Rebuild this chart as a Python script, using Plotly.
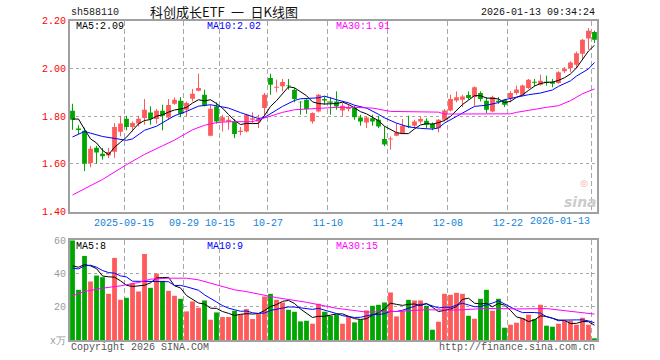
import plotly.graph_objects as go

# ---------------- data ----------------
sep = [2, 3, 4, 5, 8, 9, 10, 11, 12, 15, 16, 17, 18, 19, 22, 23, 24, 25, 26, 29, 30]
oct_ = [9, 10, 13, 14, 15, 16, 17, 20, 21, 22, 23, 24, 27, 28, 29, 30, 31]
nov = [3, 4, 5, 6, 7, 10, 11, 12, 13, 14, 17, 18, 19, 20, 21, 24, 25, 26, 27, 28]
dec = [1, 2, 3, 4, 5, 8, 9, 10, 11, 12, 15, 16, 17, 18, 19, 22, 23, 24, 25, 26, 29, 30, 31]
jan = [5, 6, 7, 8, 9, 12, 13]
dates = (["2025-09-%02d" % d for d in sep] + ["2025-10-%02d" % d for d in oct_]
         + ["2025-11-%02d" % d for d in nov] + ["2025-12-%02d" % d for d in dec]
         + ["2026-01-%02d" % d for d in jan])

opens = [1.823, 1.748, 1.739, 1.604, 1.668, 1.643, 1.635, 1.651, 1.735, 1.789,
         1.755, 1.769, 1.792, 1.816, 1.788, 1.823, 1.795, 1.852, 1.865, 1.827,
         1.873, 1.907, 1.890, 1.718, 1.841, 1.778, 1.778, 1.778, 1.734, 1.736,
         1.785, 1.778, 1.834, 1.960, 1.919, 1.925, 1.929, 1.911, 1.861, 1.869,
         1.778, 1.820, 1.872, 1.862, 1.862, 1.824, 1.830, 1.834, 1.795, 1.774,
         1.791, 1.785, 1.704, 1.702, 1.718, 1.729, 1.760, 1.760, 1.778, 1.781,
         1.767, 1.750, 1.785, 1.824, 1.866, 1.869, 1.889, 1.880, 1.897, 1.865,
         1.820, 1.865, 1.869, 1.876, 1.897, 1.890, 1.918, 1.944, 1.932, 1.944,
         1.943, 1.939, 1.988, 2.002, 2.016, 2.062, 2.125, 2.153]
highs = [1.852, 1.762, 1.752, 1.676, 1.676, 1.667, 1.667, 1.771, 1.802, 1.802,
         1.778, 1.802, 1.872, 1.841, 1.830, 1.848, 1.872, 1.879, 1.880, 1.862,
         1.914, 1.978, 1.911, 1.848, 1.858, 1.806, 1.799, 1.788, 1.755, 1.810,
         1.816, 1.806, 1.897, 1.978, 1.953, 1.956, 1.956, 1.918, 1.862, 1.872,
         1.816, 1.893, 1.883, 1.880, 1.904, 1.855, 1.848, 1.844, 1.806, 1.799,
         1.806, 1.802, 1.757, 1.715, 1.771, 1.788, 1.802, 1.785, 1.799, 1.791,
         1.774, 1.788, 1.830, 1.890, 1.904, 1.890, 1.904, 1.925, 1.904, 1.880,
         1.886, 1.880, 1.872, 1.904, 1.928, 1.932, 1.956, 1.956, 1.974, 1.970,
         1.956, 1.988, 2.006, 2.030, 2.071, 2.123, 2.169, 2.158]
lows = [1.743, 1.725, 1.570, 1.586, 1.601, 1.618, 1.625, 1.625, 1.716, 1.741,
        1.736, 1.757, 1.764, 1.764, 1.769, 1.741, 1.785, 1.848, 1.796, 1.799,
        1.862, 1.904, 1.841, 1.716, 1.769, 1.736, 1.743, 1.708, 1.720, 1.732,
        1.771, 1.750, 1.802, 1.890, 1.900, 1.904, 1.911, 1.858, 1.806, 1.810,
        1.769, 1.816, 1.848, 1.806, 1.827, 1.799, 1.820, 1.785, 1.760, 1.750,
        1.760, 1.750, 1.674, 1.660, 1.716, 1.727, 1.750, 1.750, 1.769, 1.750,
        1.741, 1.732, 1.778, 1.820, 1.858, 1.838, 1.869, 1.844, 1.862, 1.813,
        1.816, 1.852, 1.838, 1.858, 1.890, 1.886, 1.914, 1.925, 1.928, 1.928,
        1.921, 1.936, 1.981, 1.984, 2.002, 2.037, 2.079, 2.106]
closes = [1.785, 1.742, 1.601, 1.664, 1.648, 1.632, 1.650, 1.755, 1.769, 1.755,
          1.771, 1.789, 1.827, 1.788, 1.823, 1.802, 1.847, 1.869, 1.810, 1.855,
          1.894, 1.918, 1.845, 1.831, 1.778, 1.796, 1.785, 1.725, 1.739, 1.806,
          1.791, 1.788, 1.890, 1.932, 1.923, 1.943, 1.925, 1.872, 1.858, 1.830,
          1.813, 1.890, 1.866, 1.856, 1.841, 1.844, 1.836, 1.796, 1.778, 1.795,
          1.778, 1.757, 1.681, 1.707, 1.732, 1.760, 1.756, 1.778, 1.788, 1.764,
          1.750, 1.785, 1.824, 1.872, 1.879, 1.883, 1.876, 1.921, 1.872, 1.827,
          1.880, 1.859, 1.848, 1.897, 1.912, 1.929, 1.953, 1.940, 1.949, 1.939,
          1.936, 1.984, 1.999, 2.025, 2.064, 2.120, 2.158, 2.120]
volumes = [60.0, 30.2, 50.6, 35.2, 38.8, 37.8, 27.8, 49.4, 24.2, 25.4,
           34.2, 29.2, 51.8, 31.4, 40.0, 35.6, 29.6, 26.6, 24.8, 17.2,
           23.2, 19.4, 23.8, 12.2, 16.6, 13.8, 13.8, 17.6, 15.4, 18.6,
           12.6, 15.6, 26.2, 27.8, 24.2, 22.6, 18.2, 17.0, 11.2, 11.6,
           9.8, 21.8, 17.0, 14.6, 15.4, 9.8, 13.8, 10.6, 12.2, 17.8,
           20.6, 21.2, 22.6, 28.6, 14.2, 17.6, 24.2, 23.8, 23.8, 20.6,
           6.2, 11.0, 27.8, 27.2, 28.4, 27.8, 14.6, 12.8, 24.8, 30.2,
           17.6, 24.8, 7.4, 9.2, 10.4, 13.2, 15.2, 12.6, 21.2, 8.6,
           8.0, 9.8, 11.6, 11.6, 9.2, 13.4, 9.2, 1.0]

# price moving averages (as drawn on the reference)
ma5 = [1.788, 1.788, 1.745, 1.705, 1.688, 1.657, 1.639, 1.670, 1.691, 1.712,
       1.740, 1.768, 1.782, 1.786, 1.800, 1.806, 1.817, 1.826, 1.830, 1.837,
       1.855, 1.869, 1.864, 1.869, 1.853, 1.834, 1.807, 1.783, 1.765, 1.770,
       1.769, 1.770, 1.803, 1.841, 1.865, 1.895, 1.923, 1.919, 1.904, 1.886,
       1.860, 1.853, 1.851, 1.851, 1.853, 1.859, 1.849, 1.835, 1.819, 1.810,
       1.797, 1.781, 1.758, 1.744, 1.731, 1.727, 1.727, 1.747, 1.763, 1.769,
       1.767, 1.773, 1.782, 1.799, 1.822, 1.849, 1.867, 1.886, 1.886, 1.876,
       1.875, 1.872, 1.857, 1.862, 1.879, 1.889, 1.908, 1.926, 1.937, 1.942,
       1.943, 1.950, 1.961, 1.977, 2.002, 2.038, 2.073, 2.097]
ma10_idx = [0, 2, 3, 5, 7, 8, 9, 10, 11, 12, 14, 16, 17, 19, 20, 21, 23, 24, 26,
            28, 30, 31, 32, 33, 35, 37, 38, 41, 42, 44, 46, 47, 49, 51, 52, 54,
            56, 58, 60, 61, 62, 64, 66, 67, 69, 71, 72, 74, 76, 78, 80, 81, 83,
            84, 86, 87]
ma10_val = [1.713, 1.736, 1.729, 1.715, 1.707, 1.704, 1.699, 1.705, 1.722, 1.741,
            1.758, 1.787, 1.802, 1.820, 1.832, 1.842, 1.848, 1.844, 1.834, 1.815,
            1.800, 1.790, 1.795, 1.810, 1.841, 1.866, 1.873, 1.877, 1.884, 1.869,
            1.856, 1.846, 1.834, 1.808, 1.793, 1.771, 1.755, 1.749, 1.746, 1.751,
            1.771, 1.799, 1.825, 1.841, 1.846, 1.857, 1.869, 1.880, 1.890, 1.897,
            1.910, 1.925, 1.948, 1.968, 1.998, 2.025]
ma30_idx = [0, 5, 9, 12, 15, 17, 20, 22, 24, 26, 30, 32, 35, 37, 41, 44, 47, 50,
            53, 56, 58, 61, 62, 70, 73, 74, 77, 79, 81, 83, 85, 87]
ma30_val = [1.470, 1.535, 1.597, 1.640, 1.676, 1.700, 1.743, 1.762, 1.773, 1.777,
            1.777, 1.792, 1.816, 1.827, 1.834, 1.837, 1.837, 1.834, 1.820, 1.820,
            1.818, 1.817, 1.809, 1.809, 1.810, 1.816, 1.830, 1.837, 1.844, 1.865,
            1.894, 1.914]

# volume moving averages (as drawn on the reference)
vol_ma5 = [44.6, 43.8, 45.4, 44.6, 42.96, 38.52, 38.04, 37.8, 35.6, 32.92,
           32.2, 32.48, 32.96, 34.4, 37.32, 37.6, 37.68, 32.64, 31.32, 26.76,
           24.28, 22.24, 21.68, 19.16, 19.04, 17.16, 16.04, 14.8, 15.44, 15.84,
           15.6, 15.96, 17.68, 20.16, 21.28, 23.28, 23.8, 21.96, 18.64, 16.12,
           13.56, 14.28, 14.28, 14.96, 15.72, 15.72, 14.12, 12.84, 12.36, 12.84,
           15.0, 16.48, 18.88, 22.16, 21.44, 20.84, 21.44, 21.68, 20.72, 22.0,
           19.72, 17.08, 17.88, 18.56, 20.12, 24.44, 25.16, 22.16, 21.68, 22.04,
           20.0, 22.04, 20.96, 17.84, 13.88, 13.0, 11.08, 12.12, 14.52, 14.16,
           13.12, 12.04, 11.84, 9.92, 10.04, 11.12, 11.0, 8.88]
vol_ma10 = [43.2, 42.8, 44.6, 45.0, 43.8, 41.8, 40.6, 40.2, 38.6, 37.94,
            35.36, 35.26, 35.38, 35.0, 35.12, 34.9, 35.08, 32.8, 32.86, 32.04,
            30.94, 29.96, 27.16, 25.24, 22.9, 20.72, 19.14, 18.24, 17.3, 17.44,
            16.38, 16.0, 16.24, 17.8, 18.56, 19.44, 19.88, 19.82, 19.4, 18.7,
            18.42, 19.04, 18.12, 16.8, 15.92, 14.64, 14.2, 13.56, 13.66, 14.28,
            15.36, 15.3, 15.86, 17.26, 17.14, 17.92, 18.96, 20.28, 21.44, 21.72,
            20.28, 19.26, 19.78, 19.64, 21.06, 22.08, 21.12, 20.02, 20.12, 21.08,
            22.22, 23.6, 21.56, 19.76, 17.96, 16.5, 16.56, 16.54, 16.18, 14.02,
            13.06, 11.56, 11.98, 12.22, 12.1, 12.12, 11.52, 10.36]
vol_ma30_idx = [0, 2, 5, 8, 11, 13, 16, 19, 21, 24, 27, 29, 34, 39, 44, 49, 54,
                59, 64, 69, 74, 79, 82, 84, 86, 87]
vol_ma30_val = [26.6, 29.2, 31.2, 32.6, 34.6, 36.6, 37.2, 37.2, 36.2, 33.2, 30.2,
                29.1, 25.5, 22.7, 19.1, 16.8, 17.2, 18.2, 18.0, 19.0, 18.7, 18.9,
                17.8, 17.0, 16.4, 15.6]

tick_dates = ["2025-09-15", "2025-09-29", "2025-10-15", "2025-10-27", "2025-11-10",
              "2025-11-24", "2025-12-08", "2025-12-22", "2026-01-13"]
tick_labels = ["2025-09-15", "09-29", "10-15", "10-27", "11-10", "11-24", "12-08",
               "12-22", "2026-01-13"]
price_ticks = [1.40, 1.60, 1.80, 2.00, 2.20]
vol_ticks = [0, 20, 40, 60]
vol_tick_labels = ["x万", "20", "40", "60"]

code = "sh588110"
title = "科创成长ETF\u2002一\u2002日K线图"
stamp = "2026-01-13 09:34:24"
price_ma_labels = ["MA5:2.09", "MA10:2.02", "MA30:1.91"]
vol_ma_labels = ["MA5:8", "MA10:9", "MA30:15"]

# ---------------- styling ----------------
RED = "#ff5a5a"
GREEN = "#00a600"
MONO = "Liberation Mono, DejaVu Sans Mono, monospace"
GRID = "#a8a8a8"
FRAME = "#a0a0a0"

W, H = 660, 360
L, R, T, B = 70, 63, 20, 20
PW, PH = W - L - R, H - T - B


def px(x):
    return (x - L) / PW


def py(y):
    return (H - B - y) / PH


idx = list(range(len(dates)))
up = [c >= o for o, c in zip(opens, closes)]
colors = [RED if u else GREEN for u in up]

fig = go.Figure()

# wicks
for flag, col in ((True, RED), (False, GREEN)):
    wx, wy = [], []
    for i in idx:
        if up[i] == flag:
            wx += [i, i, None]
            wy += [lows[i], highs[i], None]
    fig.add_trace(go.Scatter(x=wx, y=wy, mode="lines", line=dict(color=col, width=1),
                             xaxis="x", yaxis="y", hoverinfo="skip"))

# bodies
fig.add_trace(go.Bar(x=idx, y=[abs(c - o) for o, c in zip(opens, closes)],
                     base=[min(o, c) for o, c in zip(opens, closes)],
                     marker=dict(color=colors, line=dict(width=0)), width=0.8,
                     xaxis="x", yaxis="y", hoverinfo="skip"))

# price MAs
fig.add_trace(go.Scatter(x=idx, y=ma5, mode="lines", line=dict(color="#000000", width=1),
                         xaxis="x", yaxis="y"))
fig.add_trace(go.Scatter(x=ma10_idx, y=ma10_val, mode="lines",
                         line=dict(color="#0000ff", width=1), xaxis="x", yaxis="y"))
fig.add_trace(go.Scatter(x=ma30_idx, y=ma30_val, mode="lines",
                         line=dict(color="#ff00ff", width=1), xaxis="x", yaxis="y"))

# volume
fig.add_trace(go.Bar(x=idx, y=volumes, marker=dict(color=colors, line=dict(width=0)),
                     width=0.8, xaxis="x2", yaxis="y2", hoverinfo="skip"))
fig.add_trace(go.Scatter(x=idx, y=vol_ma5, mode="lines", line=dict(color="#000000", width=1),
                         xaxis="x2", yaxis="y2"))
fig.add_trace(go.Scatter(x=idx, y=vol_ma10, mode="lines", line=dict(color="#0000ff", width=1),
                         xaxis="x2", yaxis="y2"))
fig.add_trace(go.Scatter(x=vol_ma30_idx, y=vol_ma30_val, mode="lines",
                         line=dict(color="#ff00ff", width=1), xaxis="x2", yaxis="y2"))

tickvals = [dates.index(d) - 0.42 for d in tick_dates]
ticktext = tick_labels[:-1] + [""]
xr = [-0.42, len(dates) - 1 + 0.42]

common_x = dict(range=xr, tickvals=tickvals, showgrid=True, gridcolor=GRID, gridwidth=1,
                griddash="5px,3px", zeroline=False, showline=True, mirror=True,
                linecolor=FRAME, linewidth=2, ticks="", fixedrange=True)

price_bottom, price_top = py(211.7), py(20.7)
vol_bottom, vol_top = py(340.3), py(240.3)

fig.update_layout(
    width=W, height=H, margin=dict(l=L, r=R, t=T, b=B),
    paper_bgcolor="white", plot_bgcolor="white", showlegend=False,
    font=dict(family=MONO, size=10, color="#000"),
    barmode="overlay", hovermode=False,
    xaxis=dict(domain=[0, 1], anchor="y", ticktext=ticktext, showticklabels=True,
               tickfont=dict(family=MONO, size=10, color="#1482dc"), **common_x),
    xaxis2=dict(domain=[0, 1], anchor="y2", matches="x", showticklabels=False, **common_x),
    yaxis=dict(domain=[price_bottom, price_top], range=[1.40, 2.20], tickvals=price_ticks,
               ticktext=["%.2f" % v for v in price_ticks],
               tickfont=dict(family=MONO, size=10, color="#ff0000"),
               showgrid=True, gridcolor=GRID, griddash="dot", zeroline=False,
               showline=True, mirror=True, linecolor=FRAME, linewidth=2, ticks="",
               fixedrange=True),
    yaxis2=dict(domain=[max(vol_bottom, 0), vol_top], range=[0, 60], tickvals=vol_ticks,
                ticktext=vol_tick_labels,
                tickfont=dict(family=MONO, size=10, color="#9a9a9a"),
                showgrid=True, gridcolor=GRID, griddash="dot", zeroline=False,
                showline=True, mirror=True, linecolor=FRAME, linewidth=2, ticks="",
                fixedrange=True),
)

ann = []


def text(x, y, s, color="#000", anchor="left", size=10, family=MONO, **kw):
    ann.append(dict(x=px(x), y=py(y), xref="paper", yref="paper", text=s, showarrow=False,
                    xanchor=anchor, yanchor="middle",
                    font=dict(family=family, size=size, color=color, **kw)))


text(69, 12.5, code, "#222")
text(224, 11.5, title, "#111", anchor="center", size=13, family="Noto Sans CJK SC")
text(597, 12.5, stamp, "#111", anchor="right")
text(74, 27, price_ma_labels[0], "#000")
text(205, 27, price_ma_labels[1], "#0000ff")
text(334, 27, price_ma_labels[2], "#ff00ff")
text(74, 246, vol_ma_labels[0], "#000")
text(205, 246, vol_ma_labels[1], "#0000ff")
text(334, 246, vol_ma_labels[2], "#ff00ff")
text(69, 347, "Copyright 2026 SINA.COM", "#555")
text(597, 347, "http://finance.sina.com.cn", "#555", anchor="right")
text(584, 182.5, "◎", "#f2a9a9", anchor="center", size=9, family="DejaVu Sans")
text(580, 201.5, "sina", "#cccccc", anchor="center", size=14, family="DejaVu Sans",
     weight="bold", style="italic")
# last date label, right aligned at its grid line
ann.append(dict(x=tickvals[-1], y=py(221.7), xref="x", yref="paper", text=tick_labels[-1],
                showarrow=False, xanchor="right", yanchor="middle",
                font=dict(family=MONO, size=10, color="#1482dc")))
fig.update_layout(annotations=ann)

fig.write_html("out.html", config={"displayModeBar": False, "staticPlot": True},
               post_script="document.body.style.margin='0';document.body.style.overflow='hidden';")
